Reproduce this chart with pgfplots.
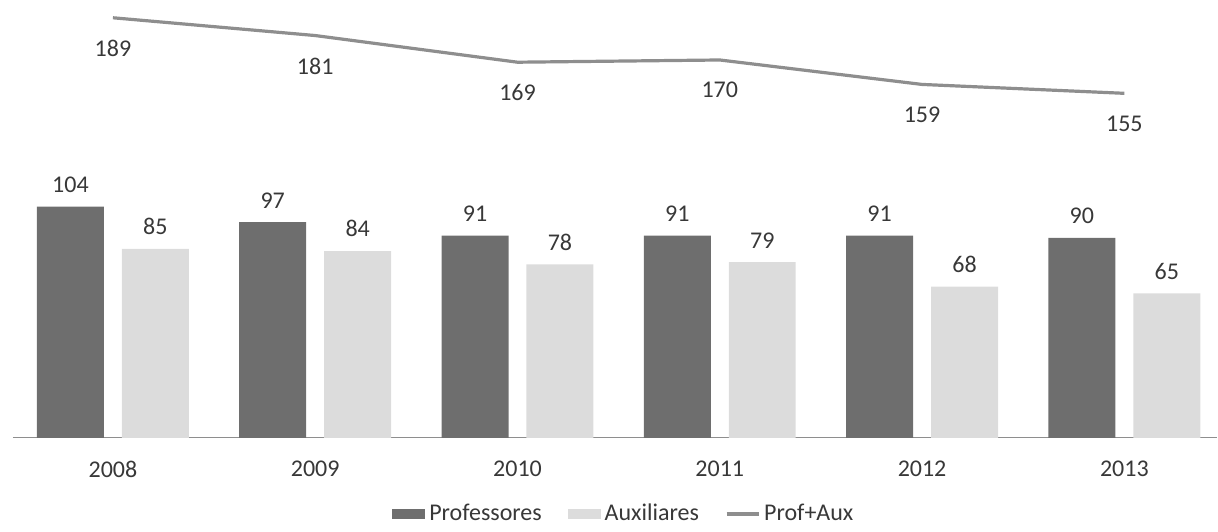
\documentclass[border=0pt]{standalone}
\usepackage{pgfplots}
\pgfplotsset{compat=1.18}
\usepackage{fontspec}
\setmainfont{Carlito}
\definecolor{profc}{HTML}{6E6E6E}
\definecolor{auxc}{HTML}{DCDCDC}
\definecolor{linec}{HTML}{8E8E8E}
\definecolor{txt}{HTML}{383838}
\begin{document}
\begin{tikzpicture}[font=\fontsize{12}{14}\selectfont]
\begin{axis}[
  scale only axis, width=602.5pt, height=219pt,
  xmin=-0.494, xmax=5.46, ymin=0, ymax=197,
  axis x line*=bottom, axis y line=none,
  x axis line style={draw=linec, line width=0.6pt},
  xtick={0,1,2,3,4,5}, xticklabels={2008,2009,2010,2011,2012,2013},
  major tick length=0pt, ytick=\empty,
  xticklabel style={text=txt, yshift=-8pt},
  /pgf/number format/assume math mode=true,
  ybar=9pt, bar width=33.5pt,
  clip=false,
  legend columns=3,
  legend style={draw=none, fill=none, at={(0.508,-0.174)}, anchor=center,
    text=txt, font=\fontsize{12}{14}\selectfont,
    /tikz/every even column/.append style={column sep=11pt}},
]
\addplot[fill=profc, draw=none,
  nodes near coords, every node near coord/.append style={text=txt, anchor=south, yshift=3.5pt},
  legend image code/.code={\fill[profc] (0pt,-2.6pt) rectangle (16.5pt,2.6pt);}]
  coordinates {(0,104)(1,97)(2,91)(3,91)(4,91)(5,90)};
\addlegendentry{Professores}
\addplot[fill=auxc, draw=none,
  nodes near coords, every node near coord/.append style={text=txt, anchor=south, yshift=3.5pt},
  legend image code/.code={\fill[auxc] (0pt,-2.6pt) rectangle (16.5pt,2.6pt);}]
  coordinates {(0,85)(1,84)(2,78)(3,79)(4,68)(5,65)};
\addlegendentry{Auxiliares}
\addplot[sharp plot, draw=linec, line width=1.6pt, mark=none, bar shift=0pt,
  nodes near coords, every node near coord/.append style={text=txt, anchor=north, yshift=-7pt},
  legend image code/.code={\draw[linec, line width=1.6pt] (0pt,0pt) -- (16pt,0pt);}]
  coordinates {(0,189)(1,181)(2,169)(3,170)(4,159)(5,155)};
\addlegendentry{Prof+Aux}
\end{axis}
\path (current axis.south west) ++(-6.5pt,0pt);
\path (current axis.north west);
\end{tikzpicture}
\end{document}
